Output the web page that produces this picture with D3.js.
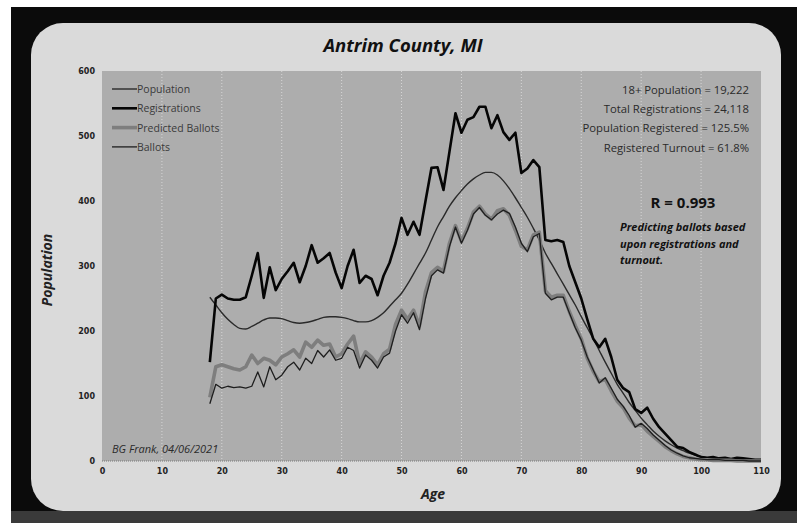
<!DOCTYPE html>
<html>
<head>
<meta charset="utf-8">
<script src="https://cdn.jsdelivr.net/npm/d3@7"></script>
<style>
body { margin: 0; background: #fff; }
svg { display: block; font-family: "Open Sans", "Noto Sans", sans-serif; }
</style>
</head>
<body>
<div id="chart"></div>
<script>
// age categories (18+)
const ages = [
    18, 19, 20, 21, 22, 23, 24, 25, 26, 27, 28, 29, 30, 31, 32, 33, 34, 35, 36, 37,
    38, 39, 40, 41, 42, 43, 44, 45, 46, 47, 48, 49, 50, 51, 52, 53, 54, 55, 56, 57,
    58, 59, 60, 61, 62, 63, 64, 65, 66, 67, 68, 69, 70, 71, 72, 73, 74, 75, 76, 77,
    78, 79, 80, 81, 82, 83, 84, 85, 86, 87, 88, 89, 90, 91, 92, 93, 94, 95, 96, 97,
    98, 99, 100, 101, 102, 103, 104, 105, 106, 107, 108, 109, 110
];
const population = [
    252, 240, 228, 218, 210, 204, 203, 207, 212, 217, 220, 220, 219, 216, 213, 212, 213, 215, 218, 221,
    222, 222, 221, 219, 216, 214, 214, 216, 221, 228, 238, 248, 258, 272, 288, 304, 320, 340, 360, 376,
    392, 405, 416, 426, 434, 440, 444, 444, 440, 431, 419, 405, 390, 375, 358, 340, 320, 304, 288, 272,
    256, 240, 222, 205, 188, 170, 152, 135, 118, 104, 90, 78, 66, 56, 46, 38, 31, 25, 20, 16,
    12, 9, 7, 5, 4, 3, 2, 2, 1, 1, 1, 0, 0
];
const registrations = [
    152, 250, 256, 250, 248, 248, 252, 285, 320, 251, 298, 263, 280, 292, 305, 275, 300, 332, 305, 312,
    320, 290, 266, 300, 325, 274, 285, 280, 255, 285, 305, 335, 374, 348, 368, 348, 400, 451, 452, 417,
    476, 535, 505, 525, 529, 545, 545, 512, 532, 506, 494, 505, 443, 450, 463, 452, 340, 338, 340, 337,
    300, 275, 250, 218, 188, 175, 188, 160, 125, 112, 106, 80, 74, 82, 65, 52, 42, 32, 22, 20,
    14, 10, 6, 5, 6, 4, 5, 3, 5, 4, 3, 2, 2
];
const predictedBallots = [
    98, 145, 148, 145, 142, 140, 145, 163, 150, 158, 155, 148, 160, 165, 171, 160, 183, 175, 186, 178,
    180, 160, 165, 180, 192, 150, 168, 160, 148, 165, 172, 210, 232, 218, 232, 208, 260, 290, 298, 292,
    335, 362, 338, 358, 383, 392, 380, 372, 385, 388, 378, 355, 330, 325, 348, 352, 262, 252, 255, 255,
    230, 208, 188, 158, 138, 122, 126, 108, 92, 82, 66, 54, 56, 46, 38, 30, 22, 16, 11, 7,
    5, 3, 2, 2, 1, 1, 1, 1, 0, 0, 0, 0, 0
];
const ballots = [
    88, 118, 112, 115, 113, 114, 112, 115, 137, 114, 145, 125, 132, 145, 152, 140, 158, 150, 170, 160,
    171, 155, 158, 175, 170, 143, 163, 155, 143, 160, 166, 200, 225, 212, 228, 202, 250, 285, 294, 289,
    330, 360, 335, 355, 380, 390, 378, 371, 380, 386, 381, 360, 335, 322, 345, 350, 258, 248, 252, 252,
    228, 205, 186, 160, 140, 120, 128, 112, 95, 84, 70, 52, 58, 50, 40, 32, 24, 17, 12, 8,
    5, 4, 3, 2, 2, 2, 1, 1, 1, 1, 0, 0, 0
];
const xTicks = [0, 10, 20, 30, 40, 50, 60, 70, 80, 90, 100, 110];
const yTicks = [0, 100, 200, 300, 400, 500, 600];
const legendNames = ["Population", "Registrations", "Predicted Ballots", "Ballots"];
const statLines = [
    "18+ Population = 19,222",
    "Total Registrations = 24,118",
    "Population Registered = 125.5%",
    "Registered Turnout = 61.8%"
];
const rText = "R = 0.993";
const noteLines = ["Predicting ballots based", "upon registrations and", "turnout."];
const creditText = "BG Frank, 04/06/2021";

const W = 797, H = 523;
const plot = {left: 102, right: 761, top: 71, bottom: 461};

const svg = d3.select("#chart").append("svg")
    .attr("width", W)
    .attr("height", H);

// dark frame and rounded panel
svg.append("rect").attr("x", 11).attr("y", 7).attr("width", W - 11).attr("height", H - 7)
    .attr("fill", "#0b0b0b");
svg.append("rect").attr("x", 11).attr("y", 511).attr("width", W - 11).attr("height", 12)
    .attr("fill", "#3a3a3a");
svg.append("rect").attr("x", 31).attr("y", 23).attr("width", 750).attr("height", 488)
    .attr("rx", 32).attr("ry", 32)
    .attr("fill", "#dadada");

const x = d3.scaleLinear().domain([0, 110]).range([plot.left, plot.right]);
const y = d3.scaleLinear().domain([0, 600]).range([plot.bottom, plot.top]);

svg.append("rect")
    .attr("x", plot.left).attr("y", plot.top)
    .attr("width", plot.right - plot.left).attr("height", plot.bottom - plot.top)
    .attr("fill", "#adadad");

// vertical dotted grid
svg.append("g").selectAll("line")
    .data(xTicks.slice(1, -1))
    .join("line")
    .attr("x1", d => x(d)).attr("x2", d => x(d))
    .attr("y1", plot.top).attr("y2", plot.bottom)
    .attr("stroke", "#d6d6d6")
    .attr("stroke-width", 1)
    .attr("stroke-dasharray", "1,2");
svg.append("line")
    .attr("x1", plot.left).attr("x2", plot.right)
    .attr("y1", plot.bottom).attr("y2", plot.bottom)
    .attr("stroke", "#777").attr("stroke-dasharray", "1,1");

// axes
const xAxis = svg.append("g")
    .attr("transform", "translate(0," + plot.bottom + ")")
    .call(d3.axisBottom(x).tickValues(xTicks).tickSize(0).tickPadding(7));
const yAxis = svg.append("g")
    .attr("transform", "translate(" + plot.left + ",0)")
    .call(d3.axisLeft(y).tickValues(yTicks).tickSize(0).tickPadding(7));
[xAxis, yAxis].forEach(a => {
    a.select(".domain").remove();
    a.selectAll("text")
        .attr("fill", "#222")
        .style("font-size", "8px")
        .style("font-weight", "bold")
        .style("font-family", "'DejaVu Sans', sans-serif");
});

// series
const series = [
    {name: "Population", values: population, color: "#2a2a2a", width: 1.4},
    {name: "Registrations", values: registrations, color: "#050505", width: 2.6},
    {name: "Predicted Ballots", values: predictedBallots, color: "#7e7e7e", width: 3.6},
    {name: "Ballots", values: ballots, color: "#1e1e1e", width: 1.3}
];
const line = d3.line()
    .x((d, i) => x(ages[i]))
    .y(d => y(d));
const popCurve = d3.line()
    .x((d, i) => x(ages[i]))
    .y(d => y(d))
    .curve(d3.curveMonotoneX);

svg.append("g").selectAll("path")
    .data(series)
    .join("path")
    .attr("d", d => d.name === "Population" ? popCurve(d.values) : line(d.values))
    .attr("fill", "none")
    .attr("stroke", d => d.color)
    .attr("stroke-width", d => d.width)
    .attr("stroke-linejoin", "round");

// legend
const legend = svg.append("g").attr("transform", "translate(112,89)");
const legendRows = legend.selectAll("g")
    .data(series)
    .join("g")
    .attr("transform", (d, i) => "translate(0," + (i * 19.3) + ")");
legendRows.append("line")
    .attr("x1", 0).attr("x2", 25)
    .attr("stroke", d => d.color)
    .attr("stroke-width", d => d.width);
legendRows.append("text")
    .attr("x", 25).attr("y", 4)
    .attr("fill", "#3a3a3a")
    .style("font-size", "10.5px")
    .text((d, i) => legendNames[i]);

// stats block
svg.append("g").selectAll("text")
    .data(statLines)
    .join("text")
    .attr("x", 749)
    .attr("y", (d, i) => 94 + i * 19.2)
    .attr("text-anchor", "end")
    .attr("fill", "#2a2a2a")
    .style("font-size", "11.3px")
    .text(d => d);

svg.append("text")
    .attr("x", 683).attr("y", 208)
    .attr("text-anchor", "middle")
    .attr("fill", "#111")
    .style("font-size", "15px")
    .style("font-weight", "bold")
    .text(rText);

svg.append("g").selectAll("text")
    .data(noteLines)
    .join("text")
    .attr("x", 620)
    .attr("y", (d, i) => 231 + i * 16.5)
    .attr("fill", "#111")
    .style("font-size", "11px")
    .style("font-style", "italic")
    .style("font-weight", "bold")
    .text(d => d);

svg.append("text")
    .attr("x", 112).attr("y", 453)
    .attr("fill", "#2a2a2a")
    .style("font-size", "11px")
    .style("font-style", "italic")
    .text(creditText);

// titles
svg.append("text")
    .attr("x", 403).attr("y", 52)
    .attr("text-anchor", "middle")
    .attr("fill", "#111")
    .style("font-size", "18.5px")
    .style("font-weight", "bold")
    .style("font-style", "italic")
    .text("Antrim County, MI");
svg.append("text")
    .attr("x", 433).attr("y", 499)
    .attr("text-anchor", "middle")
    .attr("fill", "#222")
    .style("font-size", "14px")
    .style("font-weight", "bold")
    .style("font-style", "italic")
    .text("Age");
svg.append("text")
    .attr("transform", "translate(52,270) rotate(-90)")
    .attr("text-anchor", "middle")
    .attr("fill", "#222")
    .style("font-size", "14px")
    .style("font-weight", "bold")
    .style("font-style", "italic")
    .text("Population");
</script>
</body>
</html>
